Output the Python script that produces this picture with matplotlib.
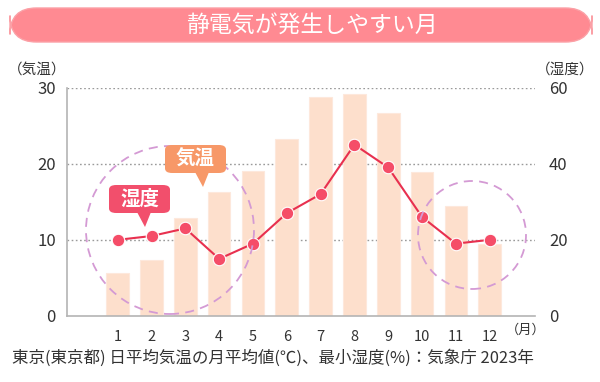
import matplotlib
matplotlib.use("Agg")
from matplotlib import pyplot as plt
from matplotlib.patches import FancyBboxPatch, Ellipse, Polygon

plt.rcParams['font.family'] = ['Noto Sans CJK JP', 'DejaVu Sans']

# data (Tokyo 2023)
months = list(range(1, 13))
month_labels = [str(m) for m in months]
temperature = [5.7, 7.3, 12.9, 16.3, 19.0, 23.2, 28.7, 29.2, 26.7, 18.9, 14.4, 9.4]
humidity = [20, 21, 23, 15, 19, 27, 32, 45, 39, 26, 19, 20]
temp_ticks = [0, 10, 20, 30]
hum_ticks = [0, 20, 40, 60]

W, H = 600, 382
fig = plt.figure(figsize=(6, 3.82), dpi=100)

def fx(px):
    return px / W

def fy(py):
    return 1 - py / H

ax = fig.add_axes([fx(67), fy(316), fx(535) - fx(67), fy(87.5) - fy(316)])
ax2 = ax.twinx()

# bars: temperature
ax.bar(months, temperature, width=0.67, color='#fddfcc', edgecolor='#fde8dc', linewidth=0.8, zorder=2)
ax.set_xlim(-0.5, 13.34)
ax.set_ylim(0, 30)
ax.set_yticks(temp_ticks)
ax.set_xticks(months)
ax.set_xticklabels(month_labels)
for y in temp_ticks[1:]:
    ax.axhline(y, color='#9a9a9a', linestyle=(0, (1.2, 1.8)), linewidth=1.0, zorder=1)
ax.tick_params(axis='both', length=0, colors='#333333')
ax.tick_params(axis='y', labelsize=12, pad=8)
ax.tick_params(axis='x', labelsize=10.5, pad=10)
for s in ['top', 'right']:
    ax.spines[s].set_visible(False)
ax.spines['left'].set_color('#b4b4b4')
ax.spines['bottom'].set_color('#b4b4b4')
ax.spines['left'].set_linewidth(1.2)
ax.spines['bottom'].set_linewidth(1.2)

# line: humidity
ax2.plot(months, humidity, color='#e8304f', linewidth=1.5, marker='o', markersize=9,
         markerfacecolor='#f54d68', markeredgecolor='#ffffff', markeredgewidth=0.8, zorder=5)
ax2.set_ylim(0, 60)
ax2.set_yticks(hum_ticks)
ax2.tick_params(axis='y', length=0, labelsize=12, colors='#333333', pad=10)
for s in ['top', 'right', 'left', 'bottom']:
    ax2.spines[s].set_visible(False)
ax.set_zorder(1)
ax2.set_zorder(2)
ax2.patch.set_visible(False)

# month unit
fig.text(fx(506), fy(330), '（月）', fontsize=9.5, color='#333333', va='center', ha='left')

# axis titles
fig.text(fx(8), fy(70), '（気温）', fontsize=10.5, color='#333333', va='center', ha='left')
fig.text(fx(594), fy(70), '（湿度）', fontsize=10.5, color='#333333', va='center', ha='right')

# dashed circles
for cx, cy, r in [(170, 230, 84), (472, 235, 54)]:
    fig.patches.append(Ellipse((fx(cx), fy(cy)), 2 * r / W, 2 * r / H, transform=fig.transFigure,
                               fill=False, edgecolor='#d49ad4', linestyle=(0, (5, 3.5)), linewidth=1.3, zorder=6))

# callouts
def callout(x0, y0, x1, y1, tip, text, color):
    fig.patches.append(FancyBboxPatch((fx(x0), fy(y1)), fx(x1 - x0), (y1 - y0) / H,
                                      boxstyle='round,pad=0,rounding_size=0.012',
                                      transform=fig.transFigure, facecolor=color, edgecolor='none', zorder=7))
    fig.patches.append(Polygon([(fx(tip[0] - 8), fy(y1 - 1)), (fx(tip[0] + 6), fy(y1 - 1)),
                                (fx(tip[0]), fy(tip[1]))],
                               transform=fig.transFigure, facecolor=color, edgecolor='none', zorder=7))
    fig.text(fx((x0 + x1) / 2), fy((y0 + y1) / 2), text, fontsize=14, fontweight='bold',
             color='white', ha='center', va='center', zorder=8)

callout(109, 185, 170, 213, (145, 227), '湿度', '#f24f6c')
callout(165, 145, 226, 173, (203, 187), '気温', '#f79868')

# title pill
fig.patches.append(FancyBboxPatch((fx(10), fy(42)), fx(582), 34 / H,
                                  boxstyle='round,pad=0,rounding_size=0.044', mutation_aspect=W / H,
                                  transform=fig.transFigure, facecolor='#ff8a92', edgecolor='#fba0a6',
                                  linewidth=1.0))
fig.text(0.52, fy(25), '静電気が発生しやすい月', fontsize=16.5, color='white', ha='center', va='center')

# footer
fig.text(fx(12), fy(358), '東京(東京都) 日平均気温の月平均値(℃)、最小湿度(%)：気象庁 2023年',
         fontsize=11.9, color='#333333', ha='left', va='center')

plt.savefig('out.png', dpi=100)
plt.close()
